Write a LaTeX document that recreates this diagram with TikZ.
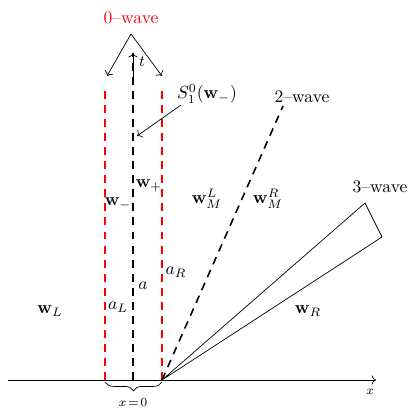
\documentclass[tikz,border=0pt]{standalone}
\usepackage{amsmath}
\usepackage{tikz}
\usetikzlibrary{arrows.meta, positioning, decorations.pathreplacing}

\tikzset{
    wavedash/.style={dashed, dash pattern=on 4.5pt off 3.5pt, line width=0.9pt},
    lbl/.style={inner sep=1pt},
}

\begin{document}
\begin{tikzpicture}[x=0.02cm, y=-0.02cm, >=To]
    \useasboundingbox (0,0) rectangle (410,407);
    % Osa x
    \coordinate (xl) at (8,380);
    \coordinate (xr) at (376,380);
    \draw[->] (xl) -- (xr);
    \node[font=\scriptsize] (xlab) at (370,392) {$x$};
    % Kontaktni nespojitost (0-wave)
    \coordinate (L0) at (105,380); \coordinate (L1) at (105,85);
    \coordinate (C0) at (133,380); \coordinate (C1) at (133,53);
    \coordinate (R0) at (162,380); \coordinate (R1) at (162,85);
    \draw[wavedash, red] (L0) -- (L1);
    \draw[wavedash, red] (R0) -- (R1);
    \draw[wavedash] (C0) -- (C1);
    \draw[->] (133,80) -- (C1);
    \node[font=\small] (t) at (142,62) {$t$};
    \node[red] (zero) at (131,18) {$0$--wave};
    \coordinate (apex) at (131,34);
    \coordinate (al) at (107,76);
    \coordinate (ar) at (162,76);
    \draw[->] (apex) -- (al);
    \draw[->] (apex) -- (ar);
    % S_1^0
    \node (S) at (207,94) {$S^0_1(\mathbf{w}_-)$};
    \coordinate (sa) at (181,105);
    \coordinate (sb) at (137,136);
    \draw[->] (sa) -- (sb);
    % 2-wave
    \coordinate (two) at (283,106);
    \draw[wavedash] (R0) -- (two);
    \node (twol) at (302,97) {$2$--wave};
    % 3-wave
    \coordinate (th1) at (365,203);
    \coordinate (th2) at (382,237);
    \draw (R0) -- (th1) -- (th2) -- (R0);
    \node (threel) at (380,187) {$3$--wave};
    % Stavy
    \node[lbl] (wm) at (118,204) {$\mathbf{w}_-$};
    \node[lbl] (wp) at (149,186) {$\mathbf{w}_+$};
    \node[lbl] (wML) at (207,199) {$\mathbf{w}^L_M$};
    \node[lbl] (wMR) at (268,199) {$\mathbf{w}^R_M$};
    \node[lbl] (aR) at (176,272) {$a_R$};
    \node[lbl] (a) at (143,286) {$a$};
    \node[lbl] (aL) at (118,307) {$a_L$};
    \node[lbl] (wL) at (50,311) {$\mathbf{w}_L$};
    \node[lbl] (wR) at (308,311) {$\mathbf{w}_R$};
    % Zavorka
    \draw[decorate, decoration={brace, mirror, amplitude=5pt}] (105,382) -- (162,382);
    \node[font=\scriptsize] (x0) at (133,403) {$x\!=\!0$};
\end{tikzpicture}
\end{document}
